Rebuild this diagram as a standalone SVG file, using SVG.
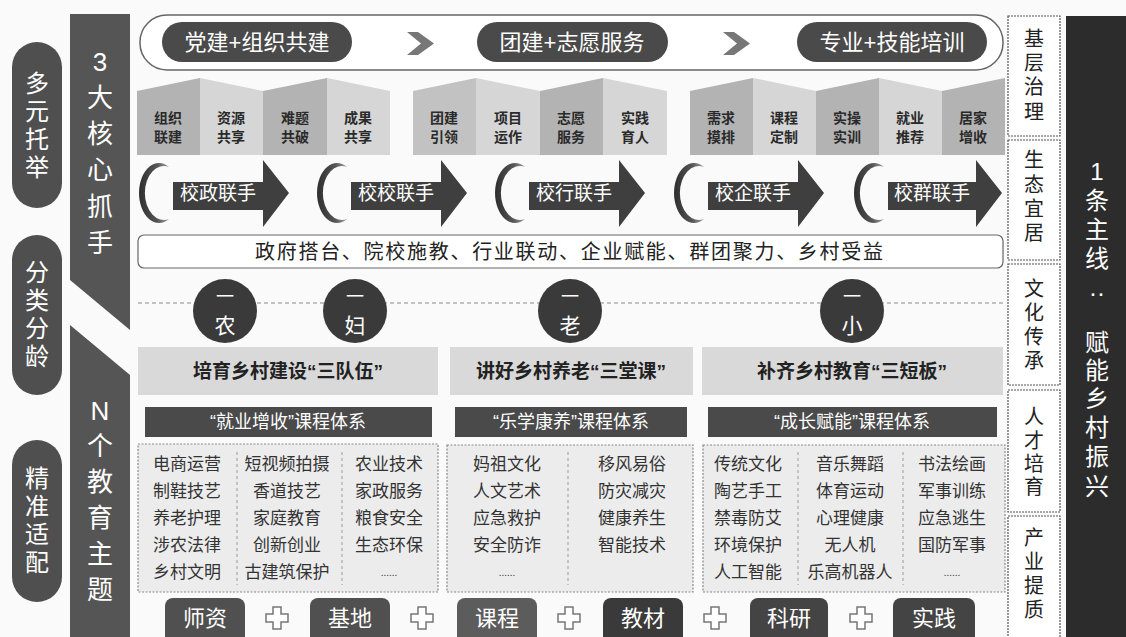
<svg xmlns="http://www.w3.org/2000/svg" width="1126" height="637" viewBox="0 0 1126 637">
<defs>
<style>
.t{font-family:"Liberation Sans","Noto Sans CJK SC",sans-serif}
.w{fill:#fff}
.dk{fill:#4a4a4a}
.lp{fill:#4f4f4f}
.pd{fill:#b3b3b3}
.pl{fill:#d6d6d6}
.ptx{font-size:14px;font-weight:bold;fill:#2a2a2a;text-anchor:middle}
.arr{fill:#3f3f3f}
.cres{fill:url(#cg)}
.atx{font-size:19px;fill:#fff;text-anchor:middle}
.circ{fill:#3a3a3a}
.ctx{font-size:21px;fill:#fff;text-anchor:middle}
.hd{fill:#d9d9d9}
.htx{font-size:19px;font-weight:bold;fill:#222;text-anchor:middle}
.bar{fill:#4a4a4a}
.btx{font-size:18px;fill:#fff;text-anchor:middle}
.lb{fill:#ececec;stroke:#8a8a8a;stroke-width:1.2;stroke-dasharray:2 1.5}
.ltx{font-size:17px;fill:#333;text-anchor:middle}
.sep{stroke:#999;stroke-width:1;stroke-dasharray:3 3}
.tab{font-size:22px;fill:#fff;text-anchor:middle}
.plus{fill:#fff;stroke:#777;stroke-width:1.5}
.rb{fill:#fff;stroke:#555;stroke-width:1.2;stroke-dasharray:2 1}
.rtx{font-size:20px;fill:#222;text-anchor:middle}
.vtx{font-size:24px;fill:#fff;text-anchor:middle}
.btxv{font-size:26px;fill:#fff;text-anchor:middle}
</style>
<linearGradient id="cg" x1="0" y1="0" x2="1" y2="0">
<stop offset="0" stop-color="#2e2e2e"/><stop offset="0.6" stop-color="#555"/><stop offset="1" stop-color="#a0a0a0"/>
</linearGradient>
</defs>
<rect width="1126" height="637" fill="#fafafa"/>

<!-- left pills -->
<g id="pill-duoyuan"><rect x="12" y="42" width="50" height="166" rx="25" class="lp"/>
<text class="t vtx" x="37" y="92">多</text><text class="t vtx" x="37" y="120">元</text><text class="t vtx" x="37" y="148">托</text><text class="t vtx" x="37" y="176">举</text></g>
<g id="pill-fenlei"><rect x="12" y="235" width="50" height="160" rx="25" class="lp"/>
<text class="t vtx" x="37" y="281">分</text><text class="t vtx" x="37" y="309">类</text><text class="t vtx" x="37" y="337">分</text><text class="t vtx" x="37" y="365">龄</text></g>
<g id="pill-jingzhun"><rect x="12" y="440" width="50" height="162" rx="25" class="lp"/>
<text class="t vtx" x="37" y="487">精</text><text class="t vtx" x="37" y="515">准</text><text class="t vtx" x="37" y="543">适</text><text class="t vtx" x="37" y="571">配</text></g>

<!-- column 2 bands -->
<g id="band-3"><polygon points="70,14 130,14 130,330 70,280" fill="#555"/>
<text class="t btxv" x="100" y="71">3</text>
<text class="t btxv" x="100" y="107">大</text>
<text class="t btxv" x="100" y="143">核</text>
<text class="t btxv" x="100" y="179">心</text>
<text class="t btxv" x="100" y="216">抓</text>
<text class="t btxv" x="100" y="252">手</text></g>
<g id="band-n"><polygon points="70,325 130,375 130,637 70,637" fill="#555"/>
<text class="t btxv" x="100" y="420">N</text>
<text class="t btxv" x="100" y="455">个</text>
<text class="t btxv" x="100" y="491">教</text>
<text class="t btxv" x="100" y="527">育</text>
<text class="t btxv" x="100" y="563">主</text>
<text class="t btxv" x="100" y="599">题</text></g>

<!-- top row -->
<g id="top-frame"><rect x="140" y="15" width="863" height="55" rx="27" fill="#fff" stroke="#666" stroke-width="1.5"/></g>
<g id="stage-1"><rect x="162" y="22" width="190" height="40" rx="20" class="dk"/><text class="t w" x="257" y="50" font-size="22" text-anchor="middle">党建+组织共建</text></g>
<g id="stage-2"><rect x="477" y="22" width="191" height="40" rx="20" class="dk"/><text class="t w" x="572" y="50" font-size="22" text-anchor="middle">团建+志愿服务</text></g>
<g id="stage-3"><rect x="797" y="22" width="190" height="40" rx="20" class="dk"/><text class="t w" x="892" y="50" font-size="22" text-anchor="middle">专业+技能培训</text></g>

<!-- panels -->
<g id="panels-1">
<polygon class="pd" points="137,91 200,78 200,155 137,155"/>
<polygon class="pl" points="200,78 263,91 263,155 200,155"/>
<polygon class="pd" points="263,91 327,78 327,155 263,155"/>
<polygon class="pl" points="327,78 390,91 390,155 327,155"/>
<text class="t ptx" x="168" y="123">组织</text><text class="t ptx" x="168" y="142">联建</text>
<text class="t ptx" x="231" y="123">资源</text><text class="t ptx" x="231" y="142">共享</text>
<text class="t ptx" x="295" y="123">难题</text><text class="t ptx" x="295" y="142">共破</text>
<text class="t ptx" x="358" y="123">成果</text><text class="t ptx" x="358" y="142">共享</text>
</g>
<g id="panels-2">
<polygon fill="#c2c2c2" points="413,91 476,78 476,155 413,155"/>
<polygon class="pl" points="476,78 540,91 540,155 476,155"/>
<polygon class="pd" points="540,91 603,78 603,155 540,155"/>
<polygon class="pl" points="603,78 667,91 667,155 603,155"/>
<text class="t ptx" x="444" y="123">团建</text><text class="t ptx" x="444" y="142">引领</text>
<text class="t ptx" x="508" y="123">项目</text><text class="t ptx" x="508" y="142">运作</text>
<text class="t ptx" x="571" y="123">志愿</text><text class="t ptx" x="571" y="142">服务</text>
<text class="t ptx" x="635" y="123">实践</text><text class="t ptx" x="635" y="142">育人</text>
</g>
<g id="panels-3">
<polygon class="pd" points="690,91 753,78 753,155 690,155"/>
<polygon class="pl" points="753,78 816,91 816,155 753,155"/>
<polygon class="pd" points="816,91 879,78 879,155 816,155"/>
<polygon class="pl" points="879,78 942,91 942,155 879,155"/>
<polygon class="pd" points="942,91 1005,78 1005,155 942,155"/>
<text class="t ptx" x="721" y="123">需求</text><text class="t ptx" x="721" y="142">摸排</text>
<text class="t ptx" x="784" y="123">课程</text><text class="t ptx" x="784" y="142">定制</text>
<text class="t ptx" x="847" y="123">实操</text><text class="t ptx" x="847" y="142">实训</text>
<text class="t ptx" x="910" y="123">就业</text><text class="t ptx" x="910" y="142">推荐</text>
<text class="t ptx" x="973" y="123">居家</text><text class="t ptx" x="973" y="142">增收</text>
</g>

<!-- arrow units -->
<g id="unit-1"><path class="cres" d="M169,167 A20,30 0 1 0 169,219 A19,27 0 1 1 169,167 Z"/><path class="arr" d="M173,182 H263 V160 L289,193 L263,227 V210 H173 Z"/><text class="t atx" x="218" y="200">校政联手</text></g>
<g id="unit-2"><path class="cres" d="M347,167 A20,30 0 1 0 347,219 A19,27 0 1 1 347,167 Z"/><path class="arr" d="M351,182 H441 V160 L467,193 L441,227 V210 H351 Z"/><text class="t atx" x="396" y="200">校校联手</text></g>
<g id="unit-3"><path class="cres" d="M525,167 A20,30 0 1 0 525,219 A19,27 0 1 1 525,167 Z"/><path class="arr" d="M529,182 H619 V160 L645,193 L619,227 V210 H529 Z"/><text class="t atx" x="574" y="200">校行联手</text></g>
<g id="unit-4"><path class="cres" d="M704,167 A20,30 0 1 0 704,219 A19,27 0 1 1 704,167 Z"/><path class="arr" d="M708,182 H798 V160 L824,193 L798,227 V210 H708 Z"/><text class="t atx" x="753" y="200">校企联手</text></g>
<g id="unit-5"><path class="cres" d="M884,167 A20,30 0 1 0 884,219 A19,27 0 1 1 884,167 Z"/><path class="arr" d="M888,182 H976 V160 L1002,193 L976,227 V210 H888 Z"/><text class="t atx" x="932" y="200">校群联手</text></g>

<g id="slogan"><rect x="138" y="235" width="865" height="33" rx="6" fill="#fff" stroke="#666" stroke-width="1.2"/>
<text class="t" x="569" y="259" font-size="20" fill="#222" text-anchor="middle" textLength="628" lengthAdjust="spacing">政府搭台、院校施教、行业联动、企业赋能、群团聚力、乡村受益</text></g>

<!-- connectors -->
<g id="connectors">
<polygon points="407,32 418,32 434,43.5 418,55 407,55 421,43.5" fill="#777"/>
<polygon points="723,32 734,32 750,43.5 734,55 723,55 737,43.5" fill="#777"/>
<line x1="138" y1="303" x2="1003" y2="303" stroke="#888" stroke-width="1.2" stroke-dasharray="4 3"/>
</g>

<!-- circles -->
<g id="c-nong"><circle cx="225" cy="311" r="32" class="circ"/><text class="t ctx" x="225" y="303" style="font-size:18px">一</text><text class="t ctx" x="225" y="333">农</text></g>
<g id="c-fu"><circle cx="355" cy="311" r="32" class="circ"/><text class="t ctx" x="355" y="303" style="font-size:18px">一</text><text class="t ctx" x="355" y="333">妇</text></g>
<g id="c-lao"><circle cx="570" cy="311" r="32" class="circ"/><text class="t ctx" x="570" y="303" style="font-size:18px">一</text><text class="t ctx" x="570" y="333">老</text></g>
<g id="c-xiao"><circle cx="852" cy="311" r="32" class="circ"/><text class="t ctx" x="852" y="303" style="font-size:18px">一</text><text class="t ctx" x="852" y="333">小</text></g>

<!-- headings -->
<g id="head-1"><rect x="138" y="347" width="300" height="48" class="hd"/><text class="t htx" x="288" y="378">培育乡村建设“三队伍”</text></g>
<g id="head-2"><rect x="450" y="347" width="243" height="48" class="hd"/><text class="t htx" x="571" y="378">讲好乡村养老“三堂课”</text></g>
<g id="head-3"><rect x="702" y="347" width="301" height="48" class="hd"/><text class="t htx" x="852" y="378">补齐乡村教育“三短板”</text></g>

<g id="bar-1"><rect x="145" y="407" width="287" height="30" class="bar"/><text class="t btx" x="288" y="428">“就业增收”课程体系</text></g>
<g id="bar-2"><rect x="455" y="407" width="232" height="30" class="bar"/><text class="t btx" x="571" y="428">“乐学康养”课程体系</text></g>
<g id="bar-3"><rect x="708" y="407" width="289" height="30" class="bar"/><text class="t btx" x="852" y="428">“成长赋能”课程体系</text></g>

<!-- list boxes -->
<g id="list-1"><rect x="138" y="444" width="300" height="148" class="lb"/>
<line class="sep" x1="237" y1="452" x2="237" y2="585"/><line class="sep" x1="342" y1="452" x2="342" y2="585"/>
<text class="t ltx" x="187" y="470">电商运营</text><text class="t ltx" x="187" y="497">制鞋技艺</text><text class="t ltx" x="187" y="524">养老护理</text><text class="t ltx" x="187" y="551">涉农法律</text><text class="t ltx" x="187" y="578">乡村文明</text>
<text class="t ltx" x="287" y="470">短视频拍摄</text><text class="t ltx" x="287" y="497">香道技艺</text><text class="t ltx" x="287" y="524">家庭教育</text><text class="t ltx" x="287" y="551">创新创业</text><text class="t ltx" x="287" y="578">古建筑保护</text>
<text class="t ltx" x="389" y="470">农业技术</text><text class="t ltx" x="389" y="497">家政服务</text><text class="t ltx" x="389" y="524">粮食安全</text><text class="t ltx" x="389" y="551">生态环保</text><text class="t ltx" x="389" y="576" style="font-size:10px">......</text>
</g>
<g id="list-2"><rect x="447" y="445" width="246" height="147" class="lb"/>
<line class="sep" x1="568" y1="452" x2="568" y2="585"/>
<text class="t ltx" x="507" y="470">妈祖文化</text><text class="t ltx" x="507" y="497">人文艺术</text><text class="t ltx" x="507" y="524">应急救护</text><text class="t ltx" x="507" y="551">安全防诈</text><text class="t ltx" x="507" y="576" style="font-size:10px">......</text>
<text class="t ltx" x="632" y="470">移风易俗</text><text class="t ltx" x="632" y="497">防灾减灾</text><text class="t ltx" x="632" y="524">健康养生</text><text class="t ltx" x="632" y="551">智能技术</text>
</g>
<g id="list-3"><rect x="703" y="445" width="302" height="147" class="lb"/>
<line class="sep" x1="798" y1="452" x2="798" y2="585"/><line class="sep" x1="903" y1="452" x2="903" y2="585"/>
<text class="t ltx" x="748" y="470">传统文化</text><text class="t ltx" x="748" y="497">陶艺手工</text><text class="t ltx" x="748" y="524">禁毒防艾</text><text class="t ltx" x="748" y="551">环境保护</text><text class="t ltx" x="748" y="578">人工智能</text>
<text class="t ltx" x="850" y="470">音乐舞蹈</text><text class="t ltx" x="850" y="497">体育运动</text><text class="t ltx" x="850" y="524">心理健康</text><text class="t ltx" x="850" y="551">无人机</text><text class="t ltx" x="850" y="578">乐高机器人</text>
<text class="t ltx" x="952" y="470">书法绘画</text><text class="t ltx" x="952" y="497">军事训练</text><text class="t ltx" x="952" y="524">应急逃生</text><text class="t ltx" x="952" y="551">国防军事</text><text class="t ltx" x="952" y="576" style="font-size:10px">......</text>
</g>

<!-- bottom tabs -->
<g id="tab-shizi"><rect x="165" y="598" width="80" height="50" rx="8" fill="#505050"/><text class="t tab" x="205" y="626">师资</text></g>
<g id="tab-jidi"><rect x="310" y="598" width="80" height="50" rx="8" fill="#505050"/><text class="t tab" x="350" y="626">基地</text></g>
<g id="tab-kecheng"><rect x="457" y="598" width="80" height="50" rx="8" fill="#5c5c5c"/><text class="t tab" x="497" y="626">课程</text></g>
<g id="tab-jiaocai"><rect x="603" y="598" width="80" height="50" rx="8" fill="#3a3a3a"/><text class="t tab" x="643" y="626">教材</text></g>
<g id="tab-keyan"><rect x="750" y="598" width="78" height="50" rx="8" fill="#444"/><text class="t tab" x="789" y="626">科研</text></g>
<g id="tab-shijian"><rect x="893" y="598" width="82" height="50" rx="8" fill="#444"/><text class="t tab" x="934" y="626">实践</text></g>
<g id="plus-signs">
<path class="plus" d="M273,607 h8 v7 h7 v8 h-7 v7 h-8 v-7 h-7 v-8 h7 Z"/>
<path class="plus" d="M418,607 h8 v7 h7 v8 h-7 v7 h-8 v-7 h-7 v-8 h7 Z"/>
<path class="plus" d="M565,607 h8 v7 h7 v8 h-7 v7 h-8 v-7 h-7 v-8 h7 Z"/>
<path class="plus" d="M711,607 h8 v7 h7 v8 h-7 v7 h-8 v-7 h-7 v-8 h7 Z"/>
<path class="plus" d="M857,607 h8 v7 h7 v8 h-7 v7 h-8 v-7 h-7 v-8 h7 Z"/>
</g>

<!-- right boxes -->
<g id="r-jiceng"><rect x="1008" y="16" width="52" height="120" class="rb"/><text class="t rtx" x="1034" y="46">基</text><text class="t rtx" x="1034" y="70">层</text><text class="t rtx" x="1034" y="94">治</text><text class="t rtx" x="1034" y="119">理</text></g>
<g id="r-shengtai"><rect x="1008" y="140" width="52" height="120" class="rb"/><text class="t rtx" x="1034" y="167">生</text><text class="t rtx" x="1034" y="192">态</text><text class="t rtx" x="1034" y="216">宜</text><text class="t rtx" x="1034" y="240">居</text></g>
<g id="r-wenhua"><rect x="1008" y="264" width="52" height="121" class="rb"/><text class="t rtx" x="1034" y="296">文</text><text class="t rtx" x="1034" y="320">化</text><text class="t rtx" x="1034" y="344">传</text><text class="t rtx" x="1034" y="368">承</text></g>
<g id="r-rencai"><rect x="1008" y="390" width="52" height="122" class="rb"/><text class="t rtx" x="1034" y="424">人</text><text class="t rtx" x="1034" y="448">才</text><text class="t rtx" x="1034" y="471">培</text><text class="t rtx" x="1034" y="494">育</text></g>
<g id="r-chanye"><rect x="1008" y="516" width="52" height="128" class="rb"/><text class="t rtx" x="1034" y="545">产</text><text class="t rtx" x="1034" y="569">业</text><text class="t rtx" x="1034" y="593">提</text><text class="t rtx" x="1034" y="617">质</text></g>

<!-- right band -->
<g id="band-1"><rect x="1066" y="16" width="60" height="621" fill="#2c2c2c"/>
<text class="t vtx" x="1097" y="180">1</text><text class="t vtx" x="1097" y="209">条</text><text class="t vtx" x="1097" y="238">主</text><text class="t vtx" x="1097" y="267">线</text><text class="t vtx" x="1097" y="301">··</text><text class="t vtx" x="1097" y="351">赋</text><text class="t vtx" x="1097" y="379">能</text><text class="t vtx" x="1097" y="407">乡</text><text class="t vtx" x="1097" y="436">村</text><text class="t vtx" x="1097" y="465">振</text><text class="t vtx" x="1097" y="495">兴</text></g>
</svg>
